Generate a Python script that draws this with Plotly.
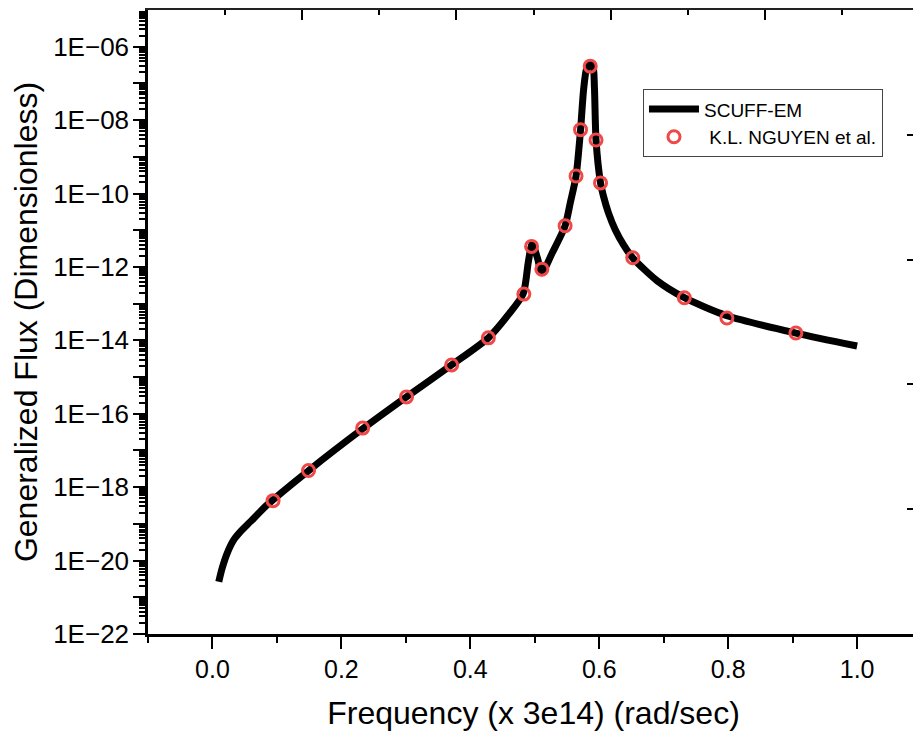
import plotly.graph_objects as go

# SCUFF-EM curve (frequency in units of 3e14 rad/sec, generalized flux)
scuff_freq = [0.0098, 0.0150, 0.0228, 0.0330, 0.0434, 0.0589, 0.0848, 0.149, 0.233, 0.301, 0.371,
              0.428, 0.459, 0.482, 0.490, 0.496, 0.504, 0.511, 0.527, 0.547, 0.555, 0.564,
              0.571, 0.5757, 0.580, 0.585, 0.590, 0.5925, 0.595, 0.602, 0.6067, 0.6144, 0.6248, 0.6377,
              0.6522, 0.690, 0.732, 0.798, 0.905, 1.0]
scuff_flux = [2.66e-21, 6.18e-21, 1.58e-20, 3.65e-20, 6.14e-20, 1.15e-19, 3.28e-19, 2.82e-18, 3.89e-17, 2.88e-16, 2.14e-15,
              1.17e-14, 5.0e-14, 1.86e-13, 1.38e-12, 4.37e-12, 1.78e-12, 6.9e-13, 2.4e-12, 1.32e-11, 5.5e-11, 3.0e-10,
              5.5e-9, 6.8e-8, 2.4e-7, 3.55e-7, 3.16e-7, 7.9e-8, 2.88e-9, 1.95e-10, 8.3e-11, 2.92e-11, 1.03e-11, 3.98e-12,
              1.74e-12, 4.17e-13, 1.45e-13, 4.68e-14, 1.58e-14, 7.0e-15]

# K.L. Nguyen et al. reference points
ref_freq = [0.094, 0.149, 0.233, 0.301, 0.371, 0.428, 0.483, 0.495, 0.511, 0.547,
            0.564, 0.571, 0.586, 0.595, 0.602, 0.652, 0.732, 0.798, 0.905]
ref_flux = [4.3e-19, 2.85e-18, 4.07e-17, 2.88e-16, 2.14e-15, 1.17e-14, 1.82e-13, 3.63e-12, 8.7e-13, 1.32e-11,
            3.0e-10, 5.5e-9, 2.95e-7, 2.88e-9, 1.95e-10, 1.78e-12, 1.45e-13, 4.07e-14, 1.58e-14]

x_ticks = [0.0, 0.2, 0.4, 0.6, 0.8, 1.0]
y_decades = list(range(-22, -5))
y_labels = ["1E\u2212%02d" % (-d) if d % 2 == 0 else "" for d in y_decades]

FONT = "Liberation Sans, Arial, sans-serif"

fig = go.Figure()
fig.add_trace(go.Scatter(
    x=scuff_freq, y=scuff_flux, mode="lines", name="SCUFF-EM",
    line=dict(color="black", width=7, shape="spline", smoothing=0.7),
))
fig.add_trace(go.Scatter(
    x=ref_freq, y=ref_flux, mode="markers", name=" K.L. NGUYEN et al.",
    marker=dict(symbol="circle-open", size=12, color="#f04848", line=dict(width=3, color="#f04848")),
))
# dummy trace to host the mirrored top/right axes
fig.add_trace(go.Scatter(x=[None], y=[None], xaxis="x2", yaxis="y2", showlegend=False, hoverinfo="skip"))

minor_y = [k * 10.0 ** d for d in range(-22, -5) for k in range(2, 10)]

# page body has an 8px default margin, so the figure is sized to fill the remaining window
fig.update_layout(
    width=913, height=723,
    margin=dict(l=140, r=2, t=2, b=97),
    paper_bgcolor="white", plot_bgcolor="white",
    font=dict(family=FONT, color="black"),
    showlegend=True,
    legend=dict(
        x=0.642, y=0.873, xanchor="left", yanchor="top",
        bordercolor="#444", borderwidth=1, bgcolor="white",
        font=dict(size=19, family=FONT), tracegroupgap=0, itemwidth=50,
    ),
    xaxis=dict(
        range=[-0.1, 1.096], tickmode="array", tickvals=x_ticks,
        ticktext=["%.1f" % v for v in x_ticks],
        ticks="outside", ticklen=12, tickwidth=2, tickcolor="black",
        minor=dict(dtick=0.1, tick0=0, ticks="outside", ticklen=6, tickwidth=2, tickcolor="black"),
        showline=True, linewidth=2.5, linecolor="black", showgrid=False, zeroline=False,
        tickfont=dict(size=25), ticklabelstandoff=-1, automargin=False,
        title=dict(text="Frequency (x 3e14) (rad/sec)", font=dict(size=32), standoff=29),
    ),
    yaxis=dict(
        type="log", range=[-22, -5], tickmode="array",
        tickvals=[10.0 ** d for d in y_decades], ticktext=y_labels,
        ticks="outside", ticklen=12, tickwidth=2, tickcolor="black",
        minor=dict(tickmode="array", tickvals=minor_y, ticks="outside", ticklen=6, tickwidth=1.5, tickcolor="black"),
        showline=True, linewidth=2.5, linecolor="black", showgrid=False, zeroline=False,
        tickfont=dict(size=26), ticklabelstandoff=-1, automargin=False,
        title=dict(text="Generalized Flux (Dimensionless)", font=dict(size=32), standoff=8),
    ),
    xaxis2=dict(
        overlaying="x", side="top", anchor="y", range=[0, 10], dtick=2, tick0=0,
        ticks="inside", ticklen=10, tickwidth=2, tickcolor="black",
        minor=dict(dtick=1, ticks="inside", ticklen=5, tickwidth=2, tickcolor="black"),
        showticklabels=False, showline=True, linewidth=1.5, linecolor="#222",
        showgrid=False, zeroline=False, automargin=False,
    ),
    yaxis2=dict(
        overlaying="y", side="right", anchor="x", range=[0, 10], dtick=2, tick0=0,
        ticks="inside", ticklen=12, tickwidth=2, tickcolor="black",
        minor=dict(dtick=1, ticks="inside", ticklen=6, tickwidth=2, tickcolor="black"),
        showticklabels=False, showline=True, linewidth=1.2, linecolor="#222",
        showgrid=False, zeroline=False, automargin=False,
    ),
)

fig.write_html("out.html")
